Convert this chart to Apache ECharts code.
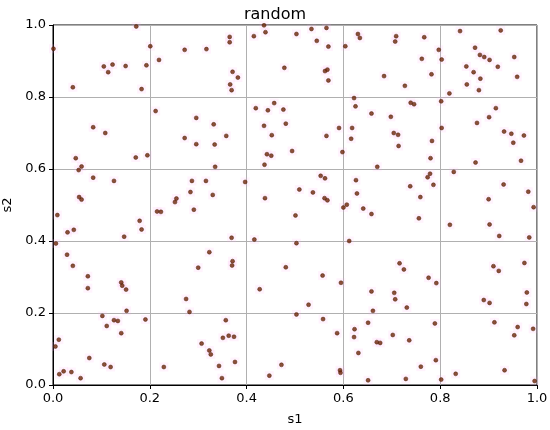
<!DOCTYPE html>
<html>
<head>
<meta charset="utf-8">
<script src="https://cdn.jsdelivr.net/npm/echarts@6/dist/echarts.min.js"></script>
<style>
  html, body { margin: 0; padding: 0; background: #fff; }
  #chart { width: 550px; height: 430px; }
</style>
</head>
<body>
<div id="chart"></div>
<script>
// sample points
const s1Values = [
  0.172, 0.001, 0.201, 0.272, 0.317, 0.219, 0.123, 0.105, 0.150, 0.193, 0.114, 0.041, 0.183, 0.212, 0.296, 0.332,
  0.083, 0.108, 0.272, 0.296, 0.334, 0.047, 0.195, 0.171, 0.059, 0.053, 0.335, 0.083, 0.126, 0.287, 0.316, 0.284,
  0.330, 0.054, 0.059, 0.255, 0.252,
  0.436, 0.534, 0.565, 0.365, 0.365, 0.415, 0.439, 0.503, 0.545, 0.569, 0.604, 0.630, 0.634, 0.478, 0.371, 0.382,
  0.562, 0.567, 0.569, 0.366, 0.369, 0.622, 0.457, 0.625, 0.419, 0.444, 0.476, 0.658, 0.436, 0.481, 0.591, 0.618,
  0.358, 0.452, 0.565, 0.616, 0.494, 0.598, 0.442, 0.451, 0.437, 0.553, 0.562, 0.626, 0.397, 0.628, 0.509, 0.537,
  0.438, 0.561, 0.567,
  0.841, 0.925, 0.709, 0.707, 0.767, 0.797, 0.872, 0.882, 0.891, 0.902, 0.953, 0.762, 0.803, 0.854, 0.919, 0.869,
  0.782, 0.684, 0.959, 0.883, 0.855, 0.727, 0.880, 0.819, 0.802, 0.739, 0.746, 0.915, 0.698, 0.901, 0.876, 0.803,
  0.932, 0.947, 0.704, 0.713, 0.973, 0.783, 0.951, 0.714, 0.780, 0.967, 0.873, 0.670, 0.828, 0.779, 0.774, 0.786,
  0.931, 0.738, 0.982, 0.759, 0.900,
  0.009, 0.215, 0.223, 0.291, 0.179, 0.183, 0.030, 0.043, 0.147, 0.006, 0.029, 0.323, 0.041, 0.300, 0.072, 0.072,
  0.141, 0.143, 0.151, 0.275, 0.282, 0.152, 0.102, 0.126, 0.134, 0.191, 0.111, 0.141, 0.012, 0.005, 0.307, 0.323,
  0.326, 0.075, 0.106, 0.119, 0.229, 0.022, 0.013, 0.038, 0.057,
  0.600, 0.607, 0.641, 0.658, 0.501, 0.369, 0.416, 0.503, 0.612, 0.371, 0.370, 0.481, 0.557, 0.595, 0.427, 0.658,
  0.528, 0.661, 0.503, 0.357, 0.558, 0.651, 0.623, 0.587, 0.622, 0.351, 0.363, 0.374, 0.631, 0.343, 0.376, 0.472,
  0.447, 0.349, 0.593, 0.594, 0.651,
  0.993, 0.756, 0.820, 0.902, 0.922, 0.984, 0.716, 0.725, 0.910, 0.921, 0.974, 0.776, 0.792, 0.705, 0.707, 0.979,
  0.890, 0.902, 0.978, 0.731, 0.789, 0.912, 0.960, 0.992, 0.953, 0.702, 0.669, 0.676, 0.736, 0.791, 0.760, 0.933,
  0.832, 0.729, 0.802, 0.995
];
const s2Values = [
  0.996, 0.934, 0.941, 0.931, 0.933, 0.903, 0.890, 0.885, 0.886, 0.888, 0.869, 0.827, 0.822, 0.761, 0.742, 0.724,
  0.716, 0.700, 0.686, 0.669, 0.668, 0.630, 0.638, 0.632, 0.607, 0.597, 0.606, 0.576, 0.567, 0.567, 0.567, 0.536,
  0.528, 0.522, 0.515, 0.518, 0.508,
  0.999, 0.989, 0.992, 0.967, 0.952, 0.969, 0.980, 0.975, 0.956, 0.940, 0.941, 0.975, 0.964, 0.881, 0.870, 0.854,
  0.872, 0.876, 0.846, 0.835, 0.819, 0.797, 0.783, 0.774, 0.769, 0.763, 0.765, 0.754, 0.720, 0.726, 0.714, 0.714,
  0.692, 0.694, 0.692, 0.684, 0.650, 0.647, 0.641, 0.637, 0.612, 0.581, 0.574, 0.569, 0.564, 0.532, 0.543, 0.535,
  0.519, 0.519, 0.513,
  0.983, 0.985, 0.969, 0.954, 0.966, 0.931, 0.937, 0.917, 0.911, 0.903, 0.911, 0.906, 0.904, 0.885, 0.884, 0.869,
  0.863, 0.858, 0.856, 0.851, 0.835, 0.831, 0.819, 0.810, 0.788, 0.784, 0.780, 0.769, 0.745, 0.744, 0.728, 0.714,
  0.704, 0.698, 0.700, 0.695, 0.693, 0.678, 0.673, 0.664, 0.630, 0.623, 0.618, 0.606, 0.592, 0.587, 0.577, 0.556,
  0.557, 0.552, 0.537, 0.522, 0.516,
  0.472, 0.482, 0.481, 0.487, 0.456, 0.432, 0.424, 0.431, 0.412, 0.393, 0.362, 0.369, 0.331, 0.326, 0.302, 0.269,
  0.285, 0.276, 0.265, 0.239, 0.203, 0.206, 0.192, 0.180, 0.178, 0.182, 0.164, 0.144, 0.126, 0.107, 0.115, 0.096,
  0.085, 0.075, 0.057, 0.050, 0.050, 0.038, 0.030, 0.036, 0.019,
  0.493, 0.501, 0.490, 0.475, 0.471, 0.409, 0.404, 0.394, 0.400, 0.344, 0.332, 0.327, 0.304, 0.284, 0.266, 0.260,
  0.223, 0.206, 0.196, 0.180, 0.183, 0.173, 0.155, 0.144, 0.133, 0.131, 0.137, 0.134, 0.089, 0.053, 0.064, 0.056,
  0.026, 0.019, 0.041, 0.034, 0.013,
  0.494, 0.463, 0.445, 0.446, 0.414, 0.410, 0.338, 0.321, 0.330, 0.317, 0.339, 0.298, 0.283, 0.256, 0.238, 0.257,
  0.236, 0.228, 0.225, 0.215, 0.171, 0.174, 0.161, 0.156, 0.138, 0.139, 0.119, 0.117, 0.124, 0.069, 0.051, 0.041,
  0.031, 0.017, 0.015, 0.011
];
const tickLabels = ["0.0", "0.2", "0.4", "0.6", "0.8", "1.0"];

const points = s1Values.map((v, i) => [v, s2Values[i]]);

const chart = echarts.init(document.getElementById("chart"));

const axisCommon = {
  type: "value",
  min: 0,
  max: 1,
  interval: 0.2,
  nameLocation: "middle",
  nameTextStyle: { color: "#000", fontSize: 13, fontFamily: "DejaVu Sans" },
  axisLine: { show: true, lineStyle: { color: "#000", width: 1 } },
  axisTick: { show: true, inside: false, length: 4, lineStyle: { color: "#000" } },
  axisLabel: {
    color: "#000",
    fontSize: 13,
    fontFamily: "DejaVu Sans",
    margin: 7,
    formatter: (v) => tickLabels[Math.round(v * 5)],
  },
  splitLine: { show: true, lineStyle: { color: "#b0b0b0", width: 1 } },
};

const option = {
  animation: false,
  backgroundColor: "#fff",
  title: {
    text: "random",
    left: "center",
    top: 2,
    textStyle: { color: "#000", fontSize: 16, fontWeight: "normal", fontFamily: "DejaVu Sans" },
  },
  grid: {
    left: 53,
    right: 13,
    top: 25,
    bottom: 45,
    outerBoundsMode: "none",
    containLabel: false,
    show: true,
    borderColor: "#000",
    borderWidth: 1,
    backgroundColor: "transparent",
  },
  xAxis: Object.assign({}, axisCommon, { name: "s1", nameGap: 28 }),
  yAxis: Object.assign({}, axisCommon, { name: "s2", nameGap: 33 }),
  series: [
    {
      // faint pink halo behind each point, as in the reference
      type: "scatter",
      data: points,
      symbol: "rect",
      symbolSize: 9,
      silent: true,
      itemStyle: { color: "rgba(255, 170, 240, 0.18)" },
      z: 1,
    },
    {
      type: "scatter",
      data: points,
      symbol: "circle",
      symbolSize: 4,
      itemStyle: { color: "#6e2608", borderColor: "#4a2006", borderWidth: 0.6 },
      z: 3,
    },
  ],
};

chart.setOption(option);
</script>
</body>
</html>
